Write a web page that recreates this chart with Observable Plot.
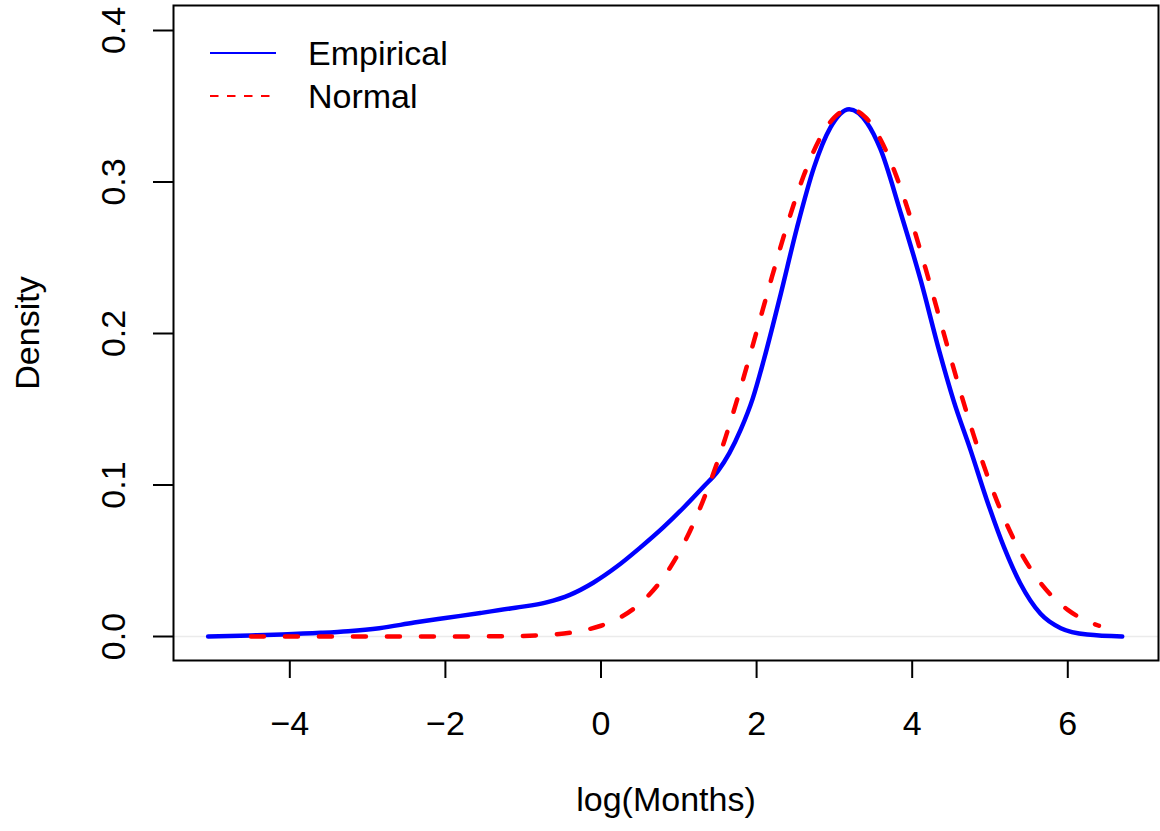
<!DOCTYPE html>
<html><head><meta charset="utf-8">
<script src="https://cdn.jsdelivr.net/npm/d3@7"></script>
<script src="https://cdn.jsdelivr.net/npm/@observablehq/plot@0.6"></script>
<style>body{margin:0;background:#fff} svg{display:block}</style>
</head><body><div id="chart"></div>
<script>
// Empirical density
const empiricalX = [-5.05,-4.5,-4.1,-3.6,-3.25,-2.85,-2.4,-2.0,-1.55,-1.1,-0.7,-0.4,-0.1,0.2,0.5,0.8,1.06,1.32,1.5,1.65,1.8,1.95,2.09,2.31,2.52,2.74,2.95,3.19,3.42,3.59,3.85,4.11,4.35,4.53,4.75,4.96,5.18,5.39,5.65,5.91,6.25,6.70];
const empiricalY = [0.0000,0.0007,0.0013,0.0024,0.0035,0.0055,0.0092,0.0122,0.0155,0.0190,0.0225,0.0275,0.0355,0.0460,0.0585,0.0720,0.0850,0.0990,0.1090,0.1210,0.1370,0.1570,0.1820,0.2260,0.2700,0.3100,0.3360,0.3480,0.3390,0.3220,0.2800,0.2350,0.1880,0.1560,0.1230,0.0900,0.0590,0.0350,0.0150,0.0055,0.0013,0.0000];
// Normal density
const normalX = [-4.5,-3.5,-2.5,-1.5,-1.0,-0.6,-0.4,-0.2,0.0,0.2,0.4,0.6,0.8,1.0,1.2,1.4,1.6,1.8,2.0,2.2,2.4,2.6,2.8,3.0,3.2,3.4,3.6,3.8,4.0,4.2,4.4,4.6,4.8,5.0,5.2,5.4,5.6,5.8,6.0,6.2,6.4];
const normalY = [0.0000,0.0000,0.0000,0.0001,0.0004,0.0014,0.0025,0.0043,0.0071,0.0113,0.0176,0.0265,0.0388,0.0551,0.0759,0.1014,0.1313,0.1650,0.2012,0.2378,0.2728,0.3034,0.3274,0.3427,0.3480,0.3427,0.3274,0.3034,0.2728,0.2378,0.2012,0.1650,0.1313,0.1014,0.0759,0.0551,0.0388,0.0265,0.0176,0.0113,0.0071];
const xTicks = [-4,-2,0,2,4,6];
const yTicks = [0.0,0.1,0.2,0.3,0.4];
const seriesNames = ["Empirical","Normal"];
const seriesColors = ["#0000ff","#ff0000"];
const xLabel = "log(Months)";
const yLabel = "Density";

const empirical = empiricalX.map((x,i) => ({x, y: empiricalY[i]}));
const normal = normalX.map((x,i) => ({x, y: normalY[i]}));
const font = "'Liberation Sans', Arial, Helvetica, sans-serif";
const fs = 34;

function legendMark(index, scales, values, dims) {
  const g = d3.create("svg:g").attr("font-family", font).attr("font-size", fs)
    .attr("fill", "black").attr("text-anchor", "start");
  const x0 = dims.marginLeft, y0 = dims.marginTop;
  const rows = [
    {name: seriesNames[0], color: seriesColors[0], dash: null, dy: 48},
    {name: seriesNames[1], color: seriesColors[1], dash: "8.5,8.5", dy: 91}
  ];
  for (const r of rows) {
    const l = g.append("line")
      .attr("x1", x0 + 37).attr("x2", x0 + 103)
      .attr("y1", y0 + r.dy).attr("y2", y0 + r.dy)
      .attr("stroke", r.color).attr("stroke-width", 2.2);
    if (r.dash) l.attr("stroke-dasharray", r.dash);
    g.append("text").attr("x", x0 + 135).attr("y", y0 + r.dy).attr("dy", "0.36em").text(r.name);
  }
  return g.node();
}

const chart = Plot.plot({
  width: 1160, height: 831,
  marginLeft: 173, marginRight: 2, marginTop: 5, marginBottom: 171,
  style: {fontFamily: font, background: "white", color: "black"},
  x: {domain: [-5.495, 7.166], label: null},
  y: {domain: [-0.01584, 0.4165], label: null},
  marks: [
    Plot.ruleY([0], {stroke: "#ebebeb", strokeWidth: 1.5}),
    Plot.line(empirical, {x: "x", y: "y", stroke: seriesColors[0], strokeWidth: 4.5, curve: "monotone-x"}),
    Plot.line(normal, {x: "x", y: "y", stroke: seriesColors[1], strokeWidth: 4.5, strokeDasharray: "13,21", strokeLinecap: "round", curve: "monotone-x"}),
    Plot.frame({stroke: "black", strokeWidth: 2}),
    Plot.axisX(xTicks, {tickSize: 18, tickPadding: 32, fontSize: fs, strokeWidth: 2, label: null, tickFormat: d3.format("d")}),
    Plot.axisY(yTicks, {tickSize: 20, strokeWidth: 2, label: null, text: null}),
    Plot.axisY(yTicks, {tickSize: 0, tickPadding: 49, fontSize: fs, label: null, rotate: -90, textAnchor: "middle", lineAnchor: "bottom", tickFormat: d => d.toFixed(1)}),
    Plot.text([xLabel], {frameAnchor: "bottom", dy: 140, fontSize: fs, lineAnchor: "middle", textAnchor: "middle"}),
    Plot.text([yLabel], {frameAnchor: "left", dx: -145, rotate: -90, fontSize: fs, lineAnchor: "middle", textAnchor: "middle"}),
    legendMark
  ]
});
document.getElementById("chart").append(chart);
</script>
</body></html>
